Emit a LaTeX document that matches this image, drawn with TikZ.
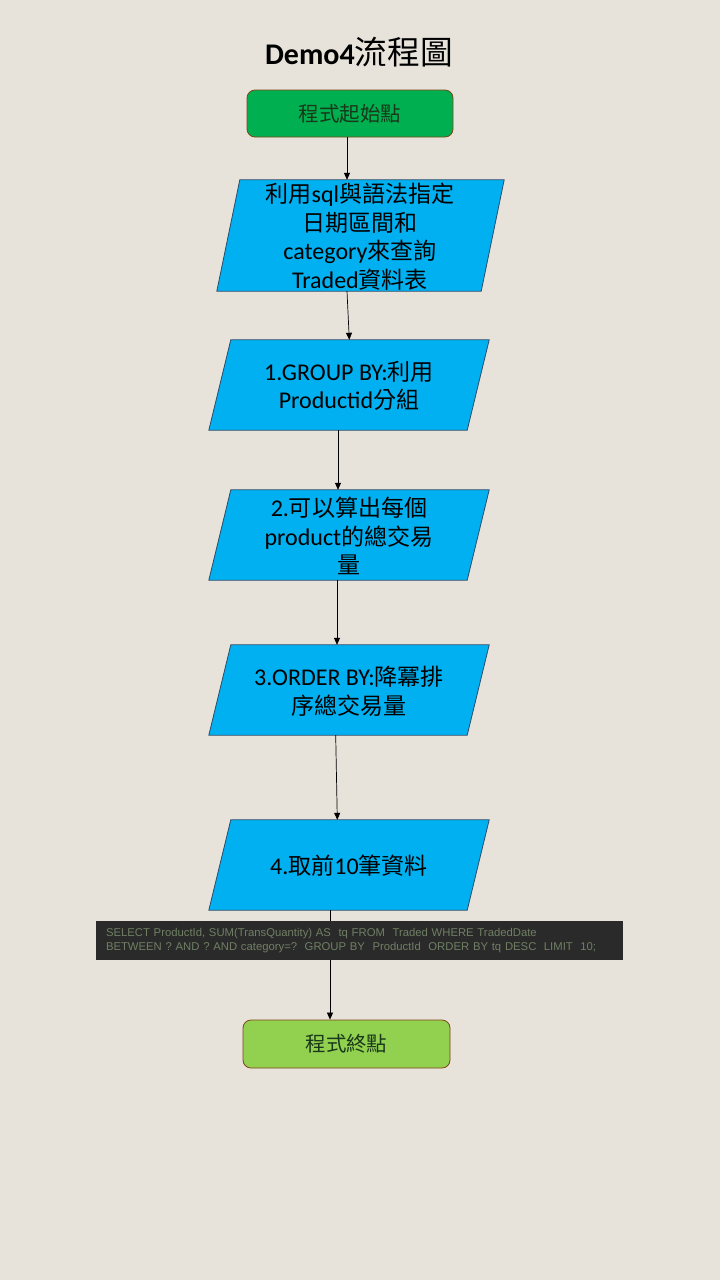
\documentclass[tikz,border=0pt]{standalone}
\usepackage{fontspec}
\setmainfont{Carlito}
\newfontfamily\cjkfont[Scale=0.96]{Noto Sans CJK TC}
\newfontfamily\cjktitle[Scale=1.09]{Noto Sans CJK TC}
\newfontfamily\codefont{Liberation Sans}
\usetikzlibrary{arrows.meta}
\newcommand\cj[1]{{\cjkfont #1}}
\definecolor{bg}{RGB}{231,227,219}
\definecolor{parafill}{RGB}{0,176,240}
\definecolor{paraline}{RGB}{45,75,105}
\definecolor{startfill}{RGB}{0,176,80}
\definecolor{endfill}{RGB}{146,208,80}
\definecolor{termline}{RGB}{125,70,20}
\definecolor{termtext}{RGB}{25,55,25}
\definecolor{codebg}{RGB}{42,42,42}
\definecolor{codetext}{RGB}{112,128,100}
\tikzset{
  term/.style={rectangle, rounded corners=8pt, draw=termline, line width=0.8pt,
    minimum width=206pt, minimum height=47pt, inner sep=0pt, text=termtext,
    font=\fontsize{21.3}{25}\selectfont},
  parabox/.style={rectangle, inner sep=0pt, align=center, text=black,
    font=\fontsize{24}{28.5}\selectfont},
  conn/.style={draw=black, line width=0.7pt, -{Triangle[length=7pt,width=6pt]}},
}
\newcommand\paradraw[2]{% node, slant
  \draw[fill=parafill, draw=paraline, line width=0.8pt]
    ([xshift=#2]#1.north west) -- (#1.north east) -- ([xshift=-#2]#1.south east)
    -- (#1.south west) -- cycle;}
\begin{document}
\begin{tikzpicture}[x=1pt,y=-1pt]
\fill[bg] (0,0) rectangle (720,1280);
\useasboundingbox (0,0) rectangle (720,1280);

\node[font=\fontsize{30}{34}\selectfont] (title) at (359,52) {\textbf{Demo4}{\cjktitle 流程圖}};

\node[term, fill=startfill] (start) at (350,113.5) {\cj{程式起始點}};

% parallelogram 1
\path node[minimum width=287pt, minimum height=111pt, inner sep=0pt] (p1) at (360.5,235.5) {};
\paradraw{p1}{23}
\node[parabox] (t1) at (360,236.5) {\cj{利用}sql\cj{與語法指定}\\\cj{日期區間和}\\category\cj{來查詢}\\Traded\cj{資料表}};

% parallelogram 2
\path node[minimum width=280pt, minimum height=90pt, inner sep=0pt] (p2) at (349,385) {};
\paradraw{p2}{22}
\node[parabox] (t2) at (349,386) {1.GROUP BY:\cj{利用}\\Productid\cj{分組}};

% parallelogram 3
\path node[minimum width=280pt, minimum height=90pt, inner sep=0pt] (p3) at (349,535) {};
\paradraw{p3}{22}
\node[parabox] (t3) at (349,536) {2.\cj{可以算出每個}\\product\cj{的總交易}\\\cj{量}};

% parallelogram 4
\path node[minimum width=280pt, minimum height=90pt, inner sep=0pt] (p4) at (349,690) {};
\paradraw{p4}{22}
\node[parabox] (t4) at (349,691.5) {3.ORDER BY:\cj{降冪排}\\\cj{序總交易量}};

% parallelogram 5
\path node[minimum width=280pt, minimum height=90pt, inner sep=0pt] (p5) at (349,865) {};
\paradraw{p5}{22}
\node[parabox] (t5) at (349,866) {4.\cj{取前}10\cj{筆資料}};

\node[term, fill=endfill, minimum width=207pt, minimum height=48pt] (end) at (346.5,1044) {\cj{程式終點}};

% connectors
\draw[conn] ([xshift=-3pt]start.south) -- ([xshift=-13.5pt]p1.north);
\draw[conn] ([xshift=-13.5pt]p1.south) -- ([xshift=0.3pt]p2.north);
\draw[conn] ([xshift=-11pt]p2.south) -- ([xshift=-11pt]p3.north);
\draw[conn] ([xshift=-12pt]p3.south) -- ([xshift=-12pt]p4.north);
\draw[conn] ([xshift=-13.3pt]p4.south) -- ([xshift=-11.7pt]p5.north);
\draw[conn] ([xshift=-19pt]p5.south) -- ([xshift=-16.5pt]end.north);

% code box
\node[rectangle, fill=codebg, minimum width=527pt, minimum height=39pt, inner xsep=10pt,
  text width=507pt, align=left, text=codetext, font=\codefont\fontsize{11.3}{14}\selectfont]
  (code) at (359.5,940.5) {SELECT ProductId, SUM(TransQuantity) AS\ \ tq FROM\ \ Traded WHERE TradedDate\\BETWEEN ? AND ? AND category=?\ \ GROUP BY\ \ ProductId\ \ ORDER BY tq DESC\ \ LIMIT\ \ 10;};
\end{tikzpicture}
\end{document}
